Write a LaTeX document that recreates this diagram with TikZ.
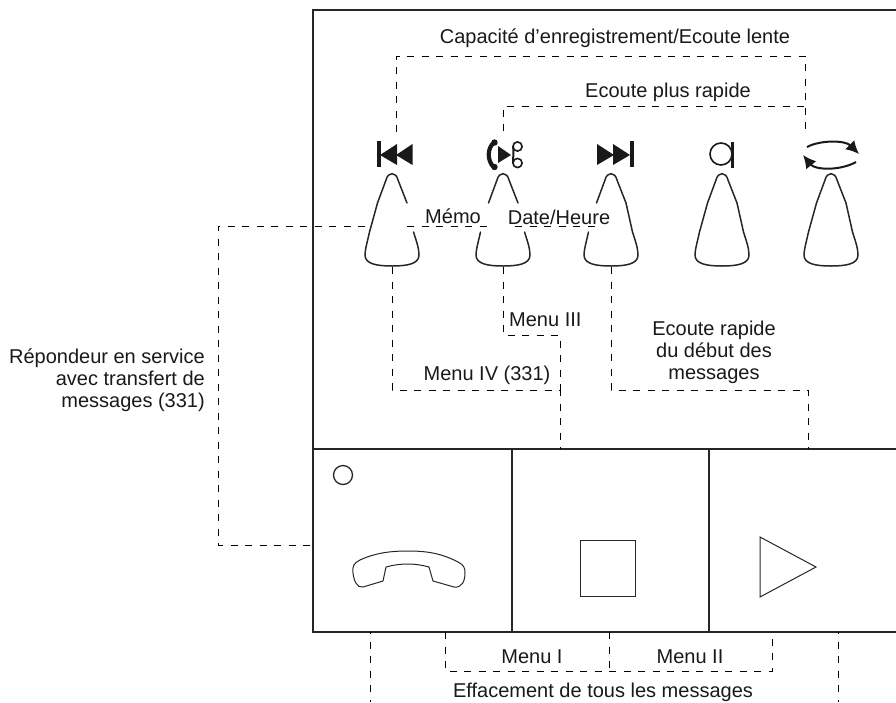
\documentclass[tikz,border=0pt]{standalone}
\usepackage{fontspec}
\setmainfont{Liberation Sans}
\usetikzlibrary{arrows.meta}
\tikzset{
  frameline/.style={line width=1.5pt,draw=black!85},
  keyline/.style={line width=1.5pt,draw=black!85,line cap=round},
  dashline/.style={line width=0.9pt,draw=black,dash pattern=on 7pt off 7.5pt},
  txt/.style={font=\fontsize{20}{22}\selectfont,inner sep=0pt,text=black!90},
  iconfill/.style={fill=black!90,draw=none},
  thinline/.style={line width=1pt,draw=black!85},
}
\newcommand{\keytop}[1]{\draw[keyline,xshift=#1pt] (-14.5,203) -- (-6,180) .. controls (-4,171.5) and (4,171.5) .. (6,180) -- (15,203);}
\newcommand{\keybot}[1]{\draw[keyline,xshift=#1pt] (-22.5,232) .. controls (-25,243) and (-27,250) .. (-27,255) .. controls (-27,264) and (-15,266) .. (0,266) .. controls (15,266) and (27,264) .. (27,255) .. controls (27,248) and (24,240) .. (21.5,232);}
\newcommand{\keyleft}[1]{\draw[keyline,xshift=#1pt] (-14.5,203) -- (-22.5,232);}
\newcommand{\keyright}[1]{\draw[keyline,xshift=#1pt] (15,203) -- (21.5,232);}
\begin{document}
\begin{tikzpicture}[x=1pt,y=-1pt]
\useasboundingbox (0,0) rectangle (896,702);
% frame
\draw[frameline] (896,10) -- (313,10) -- (313,632) -- (896,632);
\draw[frameline] (313,449) -- (896,449);
\draw[frameline] (512,449) -- (512,632);
\draw[frameline] (709,449) -- (709,632);
% keys
\keytop{392}\keybot{392}\keyleft{392}
\keytop{503}\keybot{503}
\keytop{611}\keybot{611}\keyright{611}
\keytop{722}\keybot{722}\keyleft{722}\keyright{722}
\keytop{831}\keybot{831}\keyleft{831}\keyright{831}
% rewind
\fill[iconfill] (377,141) rectangle (380.5,167);
\fill[iconfill] (380,155) -- (397,144) -- (397,165) -- cycle;
\fill[iconfill] (396,155) -- (412.5,144) -- (412.5,165) -- cycle;
% forward
\fill[iconfill] (597,144) -- (614,155) -- (597,165) -- cycle;
\fill[iconfill] (613,144) -- (630,155) -- (613,165) -- cycle;
\fill[iconfill] (630,141) rectangle (633.5,167);
% phone play scissors
\draw[line width=4.2pt,line cap=round,draw=black!90] (494,142.5) .. controls (487,148) and (487,161) .. (494,167.5);
\fill[iconfill] (494.5,142.5) circle (3.2);
\fill[iconfill] (494.5,167) circle (3.2);
\fill[iconfill] (498,146) -- (511,155) -- (498,163) -- cycle;
\draw[line width=1.6pt,draw=black!90] (517.5,146.5) circle (4.6);
\draw[line width=1.6pt,draw=black!90] (517.5,163) circle (4.6);
\draw[line width=2pt,draw=black!90] (513,146) .. controls (514,151) and (513,158) .. (513,163);
% a icon
\draw[line width=1.6pt,draw=black!90] (721,154) circle (11);
\fill[iconfill] (730.5,142) rectangle (733.5,168);
% loop
\draw[line width=2pt,draw=black!90,-{Latex[length=13pt,width=13pt]}] (807,147) .. controls (820,140) and (845,140) .. (859,154);
\draw[line width=2pt,draw=black!90,-{Latex[length=13pt,width=13pt]}] (856,162) .. controls (840,171) and (815,170) .. (803,155);
% named anchors for connectors
\coordinate (a1) at (396,132);
\coordinate (a2) at (396,56);
\coordinate (a3) at (805,56);
\coordinate (a4) at (805,130);
\coordinate (b1) at (503,131);
\coordinate (b2) at (503,106);
\coordinate (b3) at (805,106);
% dashed connectors
\draw[dashline] (a1) -- (a2) -- (a3) -- (a4);
\draw[dashline] (b1) -- (b2) -- (b3);
\coordinate (c1) at (392,267);
\coordinate (c2) at (392,390);
\coordinate (c3) at (560,390);
\coordinate (c4) at (560,449);
\draw[dashline] (c1) -- (c2) -- (c3) -- (c4);
\coordinate (d1) at (503,267);
\coordinate (d2) at (503,335);
\coordinate (d3) at (560,335);
\draw[dashline] (d1) -- (d2) -- (d3) -- (c3);
\coordinate (e1) at (611,267);
\coordinate (e2) at (611,390);
\coordinate (e3) at (808,390);
\coordinate (e4) at (808,449);
\draw[dashline] (e1) -- (e2) -- (e3) -- (e4);
\coordinate (f1) at (365,226);
\coordinate (f2) at (218,226);
\coordinate (f3) at (218,545);
\coordinate (f4) at (313,545);
\draw[dashline] (f1) -- (f2) -- (f3) -- (f4);
\coordinate (g1) at (407,226);
\coordinate (g2) at (488,226);
\draw[dashline] (g1) -- (g2);
\coordinate (g3) at (515,226);
\coordinate (g4) at (600,226);
\draw[dashline] (g3) -- (g4);
\coordinate (h1) at (370,632);
\coordinate (h2) at (370,702);
\draw[dashline,dash phase=5pt] (h1) -- (h2);
\coordinate (i1) at (445,632);
\coordinate (i2) at (445,671);
\coordinate (i3) at (772,671);
\coordinate (i4) at (772,632);
\draw[dashline] (i1) -- (i2) -- (i3) -- (i4);
\coordinate (j1) at (609,632);
\coordinate (j2) at (609,671);
\draw[dashline] (j1) -- (j2);
\coordinate (k1) at (838,632);
\coordinate (k2) at (838,702);
\draw[dashline,dash phase=5pt] (k1) -- (k2);
% panel symbols
\draw[line width=1.3pt,draw=black!85] (343,475) circle (9.5);
\draw[thinline] (353,573) .. controls (352,566) and (354,563) .. (360,560) .. controls (375,553) and (390,551) .. (408,551) .. controls (426,551) and (441,553) .. (458,562) .. controls (464,565) and (465,568) .. (465,573) .. controls (465,581) and (462,588) .. (454,587) -- (433,581) -- (429,567) .. controls (415,563) and (400,563) .. (386,567) -- (383,581) -- (363,587) .. controls (357,588) and (354,581) .. (353,573) -- cycle;
\draw[thinline] (580,540) rectangle (635,596);
\draw[thinline] (760,537) -- (816,567) -- (760,597) -- cycle;
% labels
\node[txt] (cap) at (615,38) {Capacité d’enregistrement/Ecoute lente};
\node[txt] (plus) at (668,92) {Ecoute plus rapide};
\node[txt] (memo) at (453,216) {Mémo};
\node[txt] (date) at (559,217) {Date/Heure};
\node[txt,anchor=west] (m3) at (509,320) {Menu III};
\node[txt] (m4) at (487,375) {Menu IV (331)};
\node[txt,align=center] (rapide) at (714,352) {Ecoute rapide\\du début des\\messages};
\node[txt,align=right,anchor=east] (rep) at (205,380) {Répondeur en service\\avec transfert de\\messages (331)};
\node[txt] (m1) at (532,657) {Menu I};
\node[txt] (m2) at (690,657) {Menu II};
\node[txt] (eff) at (603,692) {Effacement de tous les messages};
\end{tikzpicture}
\end{document}
